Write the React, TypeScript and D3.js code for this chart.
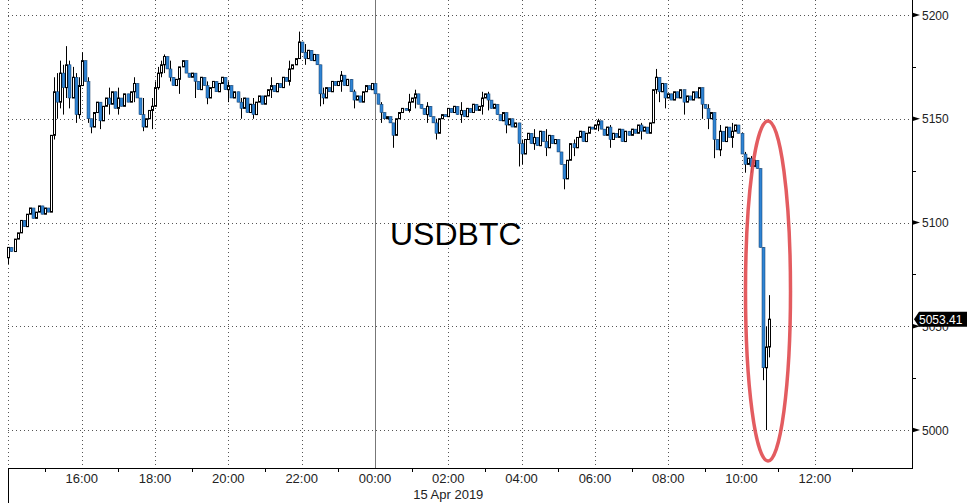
import React from "react";
import * as d3 from "d3";

// ---- Data (5-minute bars starting 14 Apr 2019 14:00) ----
const firstOpen = 5083;
const closes: number[] = [
  // 14:00
  5088, 5086, 5092, 5095, 5101, 5098, 5104, 5107, 5102, 5105, 5108, 5104,
  // 15:00
  5107, 5105, 5142, 5163, 5158, 5172, 5165, 5176, 5160, 5170, 5152, 5166,
  // 16:00
  5178, 5168, 5150, 5146, 5153, 5158, 5149, 5156, 5160, 5157, 5163, 5155,
  // 17:00
  5160, 5156, 5162, 5158, 5163, 5167, 5160, 5152, 5146, 5150, 5154, 5156,
  // 18:00
  5165, 5172, 5176, 5180, 5174, 5170, 5166, 5169, 5175, 5178, 5172, 5170,
  // 19:00
  5172, 5168, 5164, 5170, 5166, 5160, 5165, 5168, 5163, 5167, 5170, 5164,
  // 20:00
  5166, 5160, 5163, 5158, 5155, 5160, 5153, 5157, 5152, 5158, 5161, 5157,
  // 21:00
  5161, 5164, 5166, 5163, 5167, 5165, 5170, 5168, 5174, 5176, 5179, 5187,
  // 22:00
  5182, 5179, 5183, 5178, 5181, 5176, 5162, 5160, 5165, 5163, 5168, 5166,
  // 23:00
  5168, 5171, 5166, 5169, 5163, 5159, 5161, 5158, 5163, 5166, 5164, 5167,
  // 00:00
  5162, 5157, 5153, 5150, 5151, 5148, 5142, 5150, 5153, 5155, 5154, 5158,
  // 01:00
  5160, 5162, 5157, 5155, 5152, 5156, 5151, 5148, 5143, 5150, 5152, 5151,
  // 02:00
  5155, 5153, 5156, 5152, 5154, 5151, 5155, 5153, 5157, 5154, 5156, 5160,
  // 03:00
  5162, 5159, 5155, 5157, 5152, 5149, 5153, 5147, 5150, 5146, 5148, 5138,
  // 04:00
  5133, 5140, 5143, 5138, 5141, 5137, 5144, 5139, 5136, 5142, 5138, 5140,
  // 05:00
  5134, 5128, 5121, 5130, 5138, 5136, 5141, 5144, 5139, 5143, 5146, 5145,
  // 06:00
  5147, 5149, 5145, 5142, 5146, 5140, 5143, 5141, 5145, 5139, 5144, 5142,
  // 07:00
  5145, 5143, 5147, 5144, 5146, 5143, 5148, 5164, 5170, 5163, 5167, 5160,
  // 08:00
  5162, 5159, 5163, 5160, 5164, 5158, 5161, 5159, 5163, 5160, 5165, 5157,
  // 09:00
  5155, 5150, 5153, 5140, 5135, 5144, 5139, 5146, 5141, 5144, 5147, 5143,
  // 10:00
  5133, 5128, 5131, 5127, 5130, 5126, 5088, 5030, 5040, 5053.41,
];
// [bar index, high, low] for bars whose wick extends past the body
const wicks: [number, number, number][] = [
  [0, 5088, 5080],
  [15, 5170, 5140], [16, 5172, 5150], [17, 5178, 5155], [18, 5176, 5152],
  [19, 5185, 5160], [20, 5178, 5155], [21, 5175, 5160], [22, 5172, 5148], [23, 5170, 5150],
  [24, 5182, 5166], [26, 5170, 5148], [27, 5150, 5143],
  [30, 5158, 5145], [33, 5165, 5152], [36, 5165, 5152], [41, 5170, 5158],
  [44, 5160, 5144], [47, 5160, 5145],
  [48, 5168, 5160], [49, 5175, 5164], [50, 5178, 5170], [51, 5181, 5172], [53, 5178, 5168], [56, 5172, 5162],
  [61, 5172, 5160], [65, 5168, 5157], [72, 5168, 5158], [76, 5160, 5150], [80, 5160, 5150],
  [86, 5170, 5160], [92, 5178, 5166], [95, 5192, 5179], [97, 5186, 5176], [102, 5176, 5156], [103, 5165, 5157],
  [109, 5173, 5163], [113, 5164, 5155],
  [122, 5158, 5148], [126, 5148, 5136], [131, 5162, 5153], [133, 5164, 5155], [137, 5158, 5148], [140, 5150, 5140],
  [148, 5158, 5148], [155, 5163, 5152], [157, 5163, 5154], [163, 5152, 5143], [167, 5148, 5127],
  [168, 5140, 5128], [172, 5145, 5135], [176, 5145, 5132],
  [182, 5128, 5116], [185, 5140, 5132], [193, 5150, 5144], [197, 5147, 5136],
  [207, 5148, 5140], [212, 5174, 5162], [213, 5170, 5158], [215, 5166, 5155],
  [221, 5164, 5152], [227, 5164, 5150],
  [229, 5157, 5145], [231, 5153, 5131], [233, 5147, 5132], [237, 5148, 5136],
  [241, 5134, 5124], [243, 5132, 5124],
  [247, 5088, 5024], [248, 5050, 5000], [249, 5065, 5035],
];
const lastPrice = 5053.41;
const yTicks = [5000, 5050, 5100, 5150, 5200];
const yMinorTicks = [5025, 5075, 5125, 5175];
const xTickLabels = ["16:00", "18:00", "20:00", "22:00", "00:00", "02:00", "04:00", "06:00", "08:00", "10:00", "12:00"];
const dateLabel = "15 Apr 2019";
const title = "USDBTC";

const W = 976;
const H = 503;
const startTime = new Date(2019, 3, 14, 14, 0);
const endTime = new Date(2019, 3, 15, 14, 39);
const lastGrid = new Date(2019, 3, 15, 13, 30);
const midnight = new Date(2019, 3, 15, 0, 0);

export default function App() {
  const x = d3.scaleTime().domain([startTime, endTime]).range([8.4, 912]);
  const y = d3.scaleLinear().domain([5000, 5200]).range([430, 15]);
  const axisY = 468;
  const right = 912;

  const wickMap = new Map(wicks.map((w) => [w[0], w]));
  const bars = closes.map((c, i) => {
    const o = i === 0 ? firstOpen : closes[i - 1];
    const w = wickMap.get(i);
    const hi = w ? Math.max(w[1], o, c) : Math.max(o, c);
    const lo = w ? Math.min(w[2], o, c) : Math.min(o, c);
    const t = d3.timeMinute.offset(startTime, 5 * i);
    return { o, c, hi, lo, t };
  });

  const evenHours = d3.timeHour.every(2)!.range(startTime, lastGrid);
  const allHours = d3.timeHour.range(startTime, lastGrid);
  const oddHours = allHours.filter((h) => h.getHours() % 2 === 1);
  const labelHours = evenHours.filter((h) => h > startTime);
  const fmt = d3.timeFormat("%H:%M");

  const font = "'Liberation Sans', Arial, sans-serif";

  return (
    <svg width={W} height={H} style={{ position: "absolute", left: 0, top: 0, background: "#fff" }}>
      {/* horizontal gridlines */}
      {yTicks.map((v) => (
        <line key={"hg" + v} x1={8} x2={right} y1={Math.round(y(v)) + 0.5} y2={Math.round(y(v)) + 0.5}
          stroke="#555" strokeWidth={1} strokeDasharray="1,3" />
      ))}
      {/* vertical gridlines */}
      {evenHours.map((h) => {
        const xx = Math.round(x(h)) + 0.5;
        const solid = h.getTime() === midnight.getTime();
        return (
          <line key={"vg" + h.getTime()} x1={xx} x2={xx} y1={0} y2={axisY}
            stroke={solid ? "#777" : "#555"} strokeWidth={1} strokeDasharray={solid ? undefined : "1,3"} />
        );
      })}
      {/* left edge below axis */}
      <line x1={8.5} x2={8.5} y1={axisY} y2={H} stroke="#000" />
      {/* axes */}
      <line x1={8} x2={right} y1={axisY + 0.5} y2={axisY + 0.5} stroke="#000" />
      <line x1={right + 0.5} x2={right + 0.5} y1={0} y2={axisY + 1} stroke="#000" />
      {oddHours.map((h) => (
        <line key={"mt" + h.getTime()} x1={Math.round(x(h)) + 0.5} x2={Math.round(x(h)) + 0.5}
          y1={axisY} y2={axisY + 4} stroke="#000" />
      ))}
      {labelHours.map((h, i) => (
        <text key={"xl" + h.getTime()} x={x(h)} y={483} textAnchor="middle" fontFamily={font} fontSize={13} fill="#222">
          {xTickLabels[i] ?? fmt(h)}
        </text>
      ))}
      <text x={x(d3.timeHour.offset(midnight, 2))} y={499} textAnchor="middle" fontFamily={font} fontSize={13} fill="#222">
        {dateLabel}
      </text>
      {/* y ticks */}
      {yMinorTicks.map((v) => (
        <line key={"ym" + v} x1={right} x2={right + 4} y1={Math.round(y(v)) + 0.5} y2={Math.round(y(v)) + 0.5} stroke="#000" />
      ))}
      {yTicks.map((v) => {
        const yy = y(v);
        return (
          <g key={"yt" + v}>
            <path d={`M${right},${yy - 2.5}L${right + 8},${yy}L${right},${yy + 2.5}Z`} fill="#000" />
            <text x={922} y={yy + 4.5} fontFamily={font} fontSize={12} fill="#222">{v}</text>
          </g>
        );
      })}
      {/* title */}
      <text x={390} y={245} fontFamily={font} fontSize={32} fill="#000">{title}</text>
      {/* candles */}
      {bars.map((b, i) => {
        const cx = Math.round(x(b.t)) + 0.5;
        const up = b.c >= b.o;
        const top = y(Math.max(b.o, b.c));
        const bot = y(Math.min(b.o, b.c));
        const h = Math.max(1, bot - top);
        return (
          <g key={"c" + i}>
            <line x1={cx} x2={cx} y1={y(b.hi)} y2={y(b.lo)} stroke="#000" strokeWidth={1} />
            {up ? (
              <rect x={cx - 1} y={top} width={2} height={h} fill="#fff" stroke="#000" strokeWidth={1} />
            ) : (
              <rect x={cx - 1.5} y={top} width={3} height={h} fill="#2f84d4" stroke="#123a66" strokeWidth={0.5} />
            )}
          </g>
        );
      })}
      {/* red ellipse */}
      <ellipse cx={768} cy={291} rx={22.5} ry={170} fill="none" stroke="#e04a4f" strokeWidth={3.5} opacity={0.9} />
      {/* last price tag */}
      <path d={`M${right + 2},${y(lastPrice)}L${right + 7},${y(lastPrice) - 7.5}L967,${y(lastPrice) - 7.5}L967,${y(lastPrice) + 7.5}L${right + 7},${y(lastPrice) + 7.5}Z`} fill="#000" />
      <text x={919} y={y(lastPrice) + 4.5} fontFamily={font} fontSize={12} fill="#fff">{lastPrice.toFixed(2)}</text>
    </svg>
  );
}
